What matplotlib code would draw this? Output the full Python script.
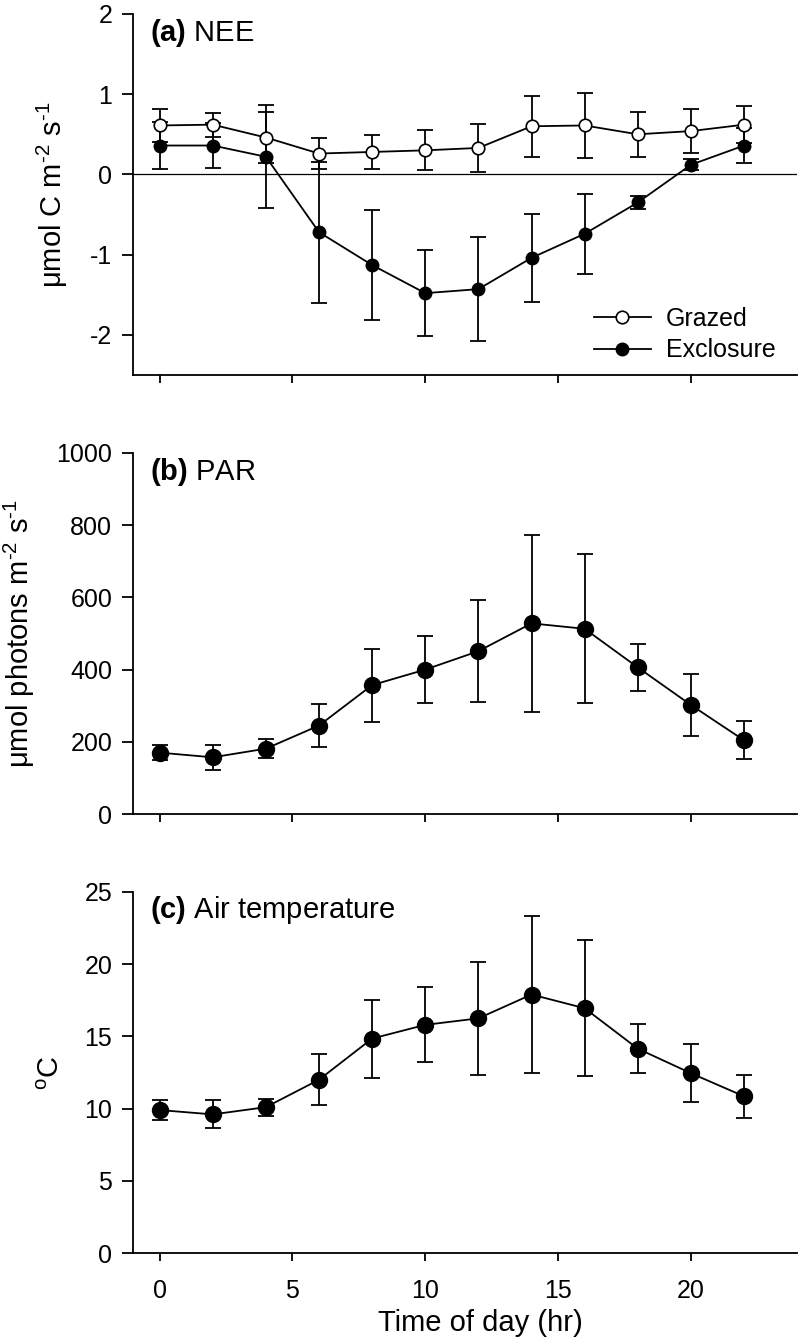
import matplotlib
matplotlib.use('Agg')
import matplotlib.pyplot as plt
from matplotlib.lines import Line2D

plt.rcParams['font.family'] = ['Liberation Sans', 'DejaVu Sans']
plt.rcParams['mathtext.fontset'] = 'custom'
plt.rcParams['mathtext.rm'] = 'Liberation Sans'
plt.rcParams['mathtext.it'] = 'Liberation Sans:italic'
plt.rcParams['mathtext.bf'] = 'Liberation Sans:bold'
plt.rcParams['axes.unicode_minus'] = False

hours = [0, 2, 4, 6, 8, 10, 12, 14, 16, 18, 20, 22]

# (a) NEE
nee_grazed = [0.61, 0.62, 0.46, 0.26, 0.28, 0.30, 0.33, 0.60, 0.61, 0.50, 0.54, 0.62]
nee_grazed_err = [0.20, 0.15, 0.32, 0.19, 0.21, 0.25, 0.30, 0.38, 0.41, 0.28, 0.27, 0.23]
nee_excl = [0.36, 0.36, 0.22, -0.72, -1.13, -1.48, -1.43, -1.04, -0.74, -0.35, 0.12, 0.36]
nee_excl_err = [0.29, 0.28, 0.64, 0.88, 0.69, 0.54, 0.65, 0.55, 0.50, 0.08, 0.07, 0.22]

# (b) PAR
par = [170, 157, 181, 245, 357, 400, 451, 528, 513, 406, 302, 204]
par_err = [20, 34, 27, 60, 101, 93, 141, 245, 206, 66, 86, 53]

# (c) air temperature
temp = [9.9, 9.6, 10.1, 12.0, 14.85, 15.8, 16.25, 17.9, 16.95, 14.15, 12.45, 10.85]
temp_err = [0.7, 0.97, 0.6, 1.77, 2.7, 2.6, 3.9, 5.45, 4.7, 1.7, 2.0, 1.5]

fig, axes = plt.subplots(3, 1, figsize=(7.98, 13.41), dpi=100, sharex=True)
fig.subplots_adjust(left=0.1667, right=0.999, top=0.9896, bottom=0.0656, hspace=0.216)

tick_fs = 18
lab_fs = 21
lw = 1.3

for ax in axes:
    ax.spines['top'].set_visible(False)
    ax.spines['right'].set_visible(False)
    ax.spines['left'].set_linewidth(lw)
    ax.spines['bottom'].set_linewidth(lw)
    ax.tick_params(axis='y', direction='out', length=8, width=lw, labelsize=tick_fs, pad=7)
    ax.tick_params(axis='x', direction='out', length=6, width=lw, labelsize=tick_fs, pad=13)
    ax.set_xlim(-1, 24)
    ax.set_xticks([0, 5, 10, 15, 20])

# panel a
ax = axes[0]
ax.axhline(0, color='black', lw=0.9, zorder=1)
ax.errorbar(hours, nee_excl, yerr=nee_excl_err, fmt='none', ecolor='black',
            elinewidth=lw, capsize=6, capthick=lw, zorder=2)
ax.errorbar(hours, nee_grazed, yerr=nee_grazed_err, fmt='none', ecolor='black',
            elinewidth=lw, capsize=6, capthick=lw, zorder=2)
ax.plot(hours, nee_excl, color='black', lw=lw, marker='o', ms=9,
        mfc='black', mec='black', zorder=3)
ax.plot(hours, nee_grazed, color='black', lw=lw, marker='o', ms=9,
        mfc='white', mec='black', mew=1.2, zorder=4)
ax.set_ylim(-2.5, 2)
ax.set_yticks([-2, -1, 0, 1, 2])
ax.set_ylabel('μmol C m$^{\u20102}$ s$^{\u20101}$', fontsize=lab_fs)
ax.yaxis.set_label_coords(-0.095, 0.5)
ax.text(0.026, 0.925, r'$\mathbf{(a)}$ NEE', transform=ax.transAxes,
        fontsize=lab_fs, va='baseline', ha='left')
handles = [Line2D([], [], color='black', lw=lw, marker='o', ms=9, mfc='white', mec='black', mew=1.2),
           Line2D([], [], color='black', lw=lw, marker='o', ms=9, mfc='black', mec='black')]
ax.legend(handles, ['Grazed', 'Exclosure'], loc='lower right', frameon=False,
          fontsize=tick_fs, handlelength=2.3, handletextpad=0.6, labelspacing=0.3,
          borderpad=0, borderaxespad=0, bbox_to_anchor=(0.968, 0.035))

# panel b
ax = axes[1]
ax.errorbar(hours, par, yerr=par_err, fmt='none', ecolor='black',
            elinewidth=lw, capsize=6, capthick=lw, zorder=2)
ax.plot(hours, par, color='black', lw=lw, marker='o', ms=11.5, mfc='black', mec='black', zorder=3)
ax.set_ylim(0, 1000)
ax.set_yticks([0, 200, 400, 600, 800, 1000])
ax.set_ylabel('μmol photons m$^{\u20102}$ s$^{\u20101}$', fontsize=lab_fs)
ax.yaxis.set_label_coords(-0.145, 0.5)
ax.text(0.026, 0.925, r'$\mathbf{(b)}$ PAR', transform=ax.transAxes,
        fontsize=lab_fs, va='baseline', ha='left')

# panel c
ax = axes[2]
ax.errorbar(hours, temp, yerr=temp_err, fmt='none', ecolor='black',
            elinewidth=lw, capsize=6, capthick=lw, zorder=2)
ax.plot(hours, temp, color='black', lw=lw, marker='o', ms=11.5, mfc='black', mec='black', zorder=3)
ax.set_ylim(0, 25)
ax.set_yticks([0, 5, 10, 15, 20, 25])
ax.set_ylabel(r'$^{\mathrm{o}}$C', fontsize=lab_fs)
ax.yaxis.set_label_coords(-0.102, 0.5)
ax.text(0.026, 0.928, r'$\mathbf{(c)}$ Air temperature', transform=ax.transAxes,
        fontsize=lab_fs, va='baseline', ha='left')
ax.set_xlabel('Time of day (hr)', fontsize=lab_fs)
ax.xaxis.set_label_coords(0.523, -0.155)

fig.savefig('out.png', dpi=100)
